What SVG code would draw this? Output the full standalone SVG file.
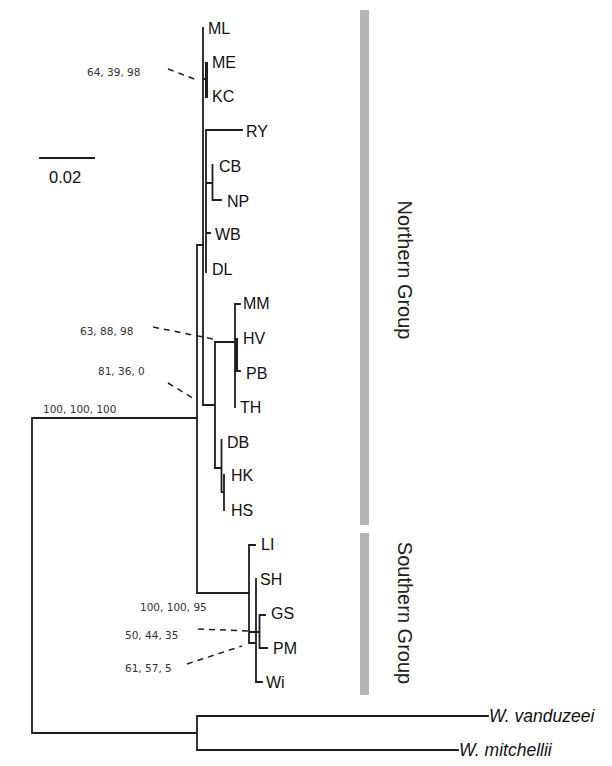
<svg xmlns="http://www.w3.org/2000/svg" width="612" height="766" viewBox="0 0 612 766">
<style>
.br{fill:none;stroke:#1e1e1e;stroke-width:1.8;stroke-linecap:square}
.thick{fill:none;stroke:#1e1e1e;stroke-width:3}
.dash{fill:none;stroke:#1e1e1e;stroke-width:1.5;stroke-dasharray:6,5}
.tip{font-family:"Liberation Sans",Arial,sans-serif;font-size:16px;fill:#111}
.ital{font-family:"Liberation Sans",Arial,sans-serif;font-size:17.5px;font-style:italic;fill:#111}
.bs{font-family:"DejaVu Sans",Verdana,sans-serif;font-size:10.5px;fill:#333}
.grp{font-family:"Liberation Sans",Arial,sans-serif;font-size:20px;fill:#222;text-anchor:middle}
.bar{fill:#b4b4b4}
</style>
<rect width="612" height="766" fill="#fff"/>
<g id="connectors">
<path class="br" d="M32 418 H197 M32 418 V733 H197 M197 716 V750 M197 716 H488 M197 750 H458"/>
<path class="br" d="M197 245 V593 M197 245 H203 M197 593 H249"/>
<path class="br" d="M203 28 V405 M203 79 H206.5 M206 130 V272 M206 130 H242 M206 183 H212.5 M212.5 165 V200 H221 M206 233 H210"/>
<path class="thick" d="M206.5 62 V98"/>
<path class="br" d="M203 405 H215 M215 342 V468 M215 342 H235 M235 304 V407 M235 304 H240 M236.5 371 H240"/>
<path class="thick" d="M236.5 338 V372"/>
<path class="br" d="M215 468 H221.5 M221.5 440 V492 H224 M224 475 V510"/>
<path class="br" d="M249 545 V641 M249 545 H255 M249 632 H259 M249 643 H256 M256 579 V682 H262 M259.5 615 V648 M259.5 615 H265 M259.5 648 H267"/>
<path class="dash" d="M168 69 L197 80 M153 327 L213 339 M168 383 L196 400 M198 629 L249 631 M187 664 L242 646"/>
<path class="br" d="M40 158 H94"/>
</g>
<g id="bars">
<rect class="bar" x="360" y="10" width="9" height="515"/>
<rect class="bar" x="360" y="533" width="9" height="162"/>
</g>
<g id="tips">
<text class="tip" x="208" y="34">ML</text>
<text class="tip" x="212" y="68">ME</text>
<text class="tip" x="212" y="102">KC</text>
<text class="tip" x="246" y="137">RY</text>
<text class="tip" x="219" y="172">CB</text>
<text class="tip" x="227" y="207">NP</text>
<text class="tip" x="215" y="240">WB</text>
<text class="tip" x="212" y="275">DL</text>
<text class="tip" x="243" y="309">MM</text>
<text class="tip" x="243" y="344">HV</text>
<text class="tip" x="246" y="379">PB</text>
<text class="tip" x="240" y="413">TH</text>
<text class="tip" x="227" y="448">DB</text>
<text class="tip" x="231" y="481">HK</text>
<text class="tip" x="231" y="516">HS</text>
<text class="tip" x="261" y="550">LI</text>
<text class="tip" x="260" y="585">SH</text>
<text class="tip" x="271" y="619">GS</text>
<text class="tip" x="273" y="654">PM</text>
<text class="tip" x="266" y="688">Wi</text>
<text class="ital" x="489" y="722">W. vanduzeei</text>
<text class="ital" x="459" y="756">W. mitchellii</text>
</g>
<g id="support">
<text class="bs" x="87" y="76">64, 39, 98</text>
<text class="bs" x="80" y="335">63, 88, 98</text>
<text class="bs" x="98" y="375">81, 36, 0</text>
<text class="bs" x="43" y="413">100, 100, 100</text>
<text class="bs" x="140" y="611">100, 100, 95</text>
<text class="bs" x="125" y="639">50, 44, 35</text>
<text class="bs" x="125" y="672">61, 57, 5</text>
</g>
<g id="scale">
<text class="tip" x="49" y="183" style="font-size:16.5px">0.02</text>
</g>
<g id="groups">
<text class="grp" transform="translate(398,270) rotate(90)">Northern Group</text>
<text class="grp" transform="translate(398,613) rotate(90)">Southern Group</text>
</g>
</svg>
